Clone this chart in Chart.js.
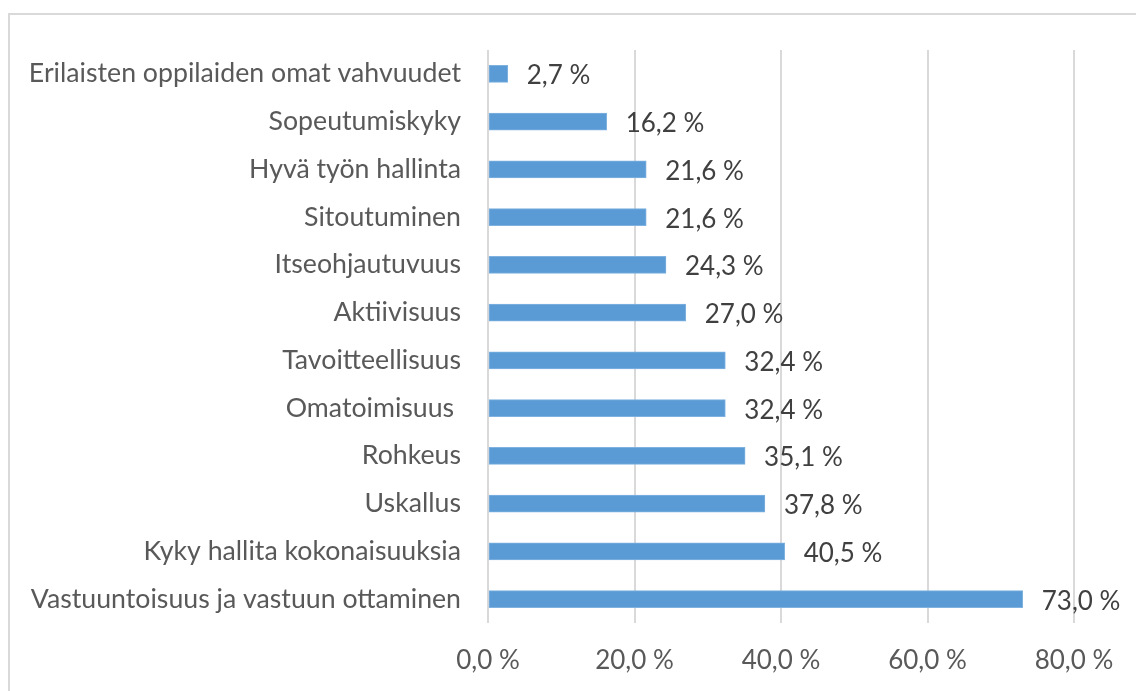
<!DOCTYPE html>
<html>
<head>
<meta charset="utf-8">
<script src="https://cdn.jsdelivr.net/npm/chart.js@4"></script>
<style>
  html, body { margin: 0; padding: 0; background: #fff; overflow: hidden; }
  #frame { position: absolute; left: 8px; top: 13px; width: 1140px; height: 690px; border: 2px solid #d9d9d9; }
  #chart { position: absolute; left: 0; top: 0; }
</style>
</head>
<body>
<div id="frame"></div>
<canvas id="chart" width="1136" height="691"></canvas>
<script>
// Skills, top to bottom as shown
const categories = [
    'Erilaisten oppilaiden omat vahvuudet',
    'Sopeutumiskyky',
    'Hyvä työn hallinta',
    'Sitoutuminen',
    'Itseohjautuvuus',
    'Aktiivisuus',
    'Tavoitteellisuus',
    'Omatoimisuus ',
    'Rohkeus',
    'Uskallus',
    'Kyky hallita kokonaisuuksia',
    'Vastuuntoisuus ja vastuun ottaminen',
];
const shares = [2.7, 16.2, 21.6, 21.6, 24.3, 27.0, 32.4, 32.4, 35.1, 37.8, 40.5, 73.0];
const axisMax = 80;
const axisStep = 20;

const FONT = "Lato, 'Open Sans', sans-serif";
const fmtPct = v => v.toFixed(1).replace('.', ',') + ' %';

const barLabels = {
    id: 'barLabels',
    afterDatasetsDraw(chart) {
        const ctx = chart.ctx;
        const meta = chart.getDatasetMeta(0);
        ctx.save();
        ctx.font = `26px ${FONT}`;
        ctx.fillStyle = '#404040';
        ctx.textAlign = 'left';
        ctx.textBaseline = 'middle';
        meta.data.forEach((bar, i) => {
            ctx.fillText(fmtPct(shares[i]), bar.x + 19, bar.y + 2);
        });
        ctx.restore();
    },
};

new Chart(document.getElementById('chart'), {
    type: 'bar',
    data: {
        labels: categories,
        datasets: [{
            data: shares,
            backgroundColor: '#5b9bd5',
            borderColor: '#7fb2e0',
            borderWidth: 1,
            borderSkipped: false,
            barThickness: 17,
        }],
    },
    options: {
        indexAxis: 'y',
        responsive: false,
        animation: false,
        layout: { padding: { top: 50, right: 62, left: 20, bottom: 0 } },
        plugins: { legend: { display: false }, tooltip: { enabled: false } },
        scales: {
            x: {
                min: 0, max: axisMax,
                ticks: {
                    stepSize: axisStep,
                    callback: v => fmtPct(v),
                    color: '#595959',
                    font: { family: FONT, size: 26 },
                    padding: 22,
                    maxRotation: 0,
                },
                grid: { color: '#d9d9d9', lineWidth: 2, drawTicks: false },
                border: { display: false },
                afterFit: s => { s.height = 68; },
            },
            y: {
                ticks: {
                    color: '#595959',
                    font: { family: FONT, size: 26.7 },
                    padding: 27,
                    autoSkip: false,
                },
                grid: { display: false, drawTicks: false },
                border: { display: false },
                afterFit: s => { s.width = 468; },
            },
        },
    },
    plugins: [barLabels],
});
</script>
</body>
</html>
